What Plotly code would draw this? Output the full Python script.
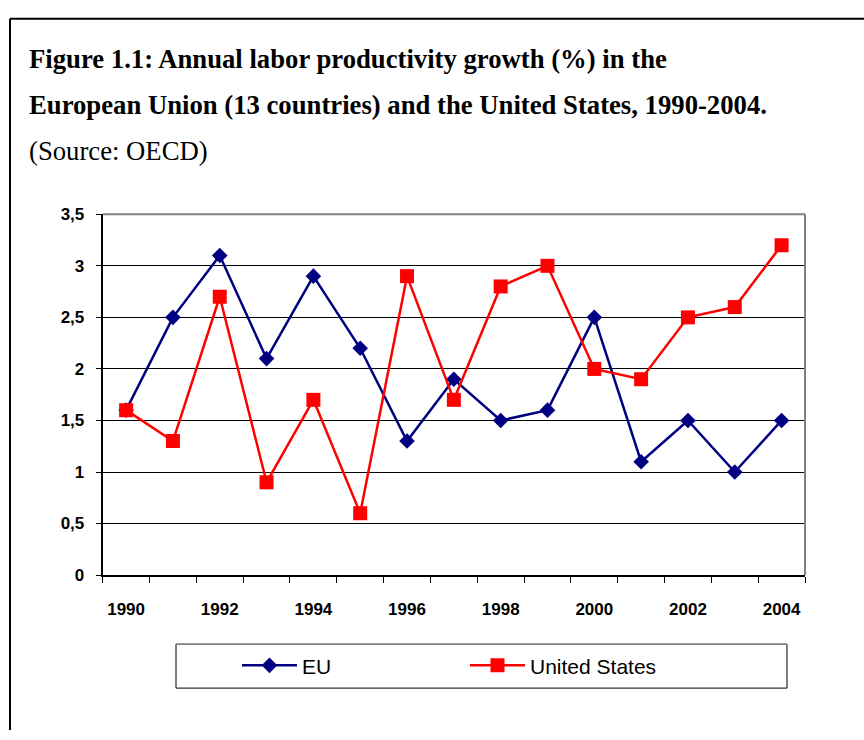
import plotly.graph_objects as go

years = list(range(1990, 2005))
eu = [1.6, 2.5, 3.1, 2.1, 2.9, 2.2, 1.3, 1.9, 1.5, 1.6, 2.5, 1.1, 1.5, 1.0, 1.5]
us = [1.6, 1.3, 2.7, 0.9, 1.7, 0.6, 2.9, 1.7, 2.8, 3.0, 2.0, 1.9, 2.5, 2.6, 3.2]
x_labels = [1990, 1992, 1994, 1996, 1998, 2000, 2002, 2004]
y_ticks = [0, 0.5, 1, 1.5, 2, 2.5, 3, 3.5]

W, H = 864, 740
x0, x1 = 102.7, 805
y0, y1 = 210.7, 581

fig = go.Figure()
fig.add_trace(go.Scatter(x=years, y=eu, name="EU", mode="lines+markers",
                         line=dict(color="#000080", width=2.5),
                         marker=dict(symbol="diamond", size=12, color="#000080")))
fig.add_trace(go.Scatter(x=years, y=us, name="United States", mode="lines+markers",
                         line=dict(color="#FF0000", width=2.5),
                         marker=dict(symbol="square", size=14, color="#FF0000")))

fig.update_layout(
    width=W, height=H,
    margin=dict(l=0, r=0, t=0, b=0),
    paper_bgcolor="white", plot_bgcolor="white",
    separators=", ",
    showlegend=True,
    legend=dict(orientation="h", x=237 / W, xanchor="left",
                y=1 - 674 / H, yanchor="middle",
                font=dict(family="Liberation Sans, Arial", size=21, color="black"),
                bgcolor="rgba(0,0,0,0)", itemwidth=55, entrywidth=158,
                traceorder="normal"),
    xaxis=dict(domain=[x0 / W, x1 / W], range=[1989.5, 2004.5],
               tickvals=x_labels, ticks="", showgrid=False, zeroline=False,
               showline=True, linecolor="black", linewidth=2,
               tickfont=dict(family="Liberation Sans, Arial", size=17, color="black", weight="bold"),
               ticklabelstandoff=18,
               minor=dict(tickmode="linear", tick0=1989.5, dtick=1, ticks="outside",
                          ticklen=6, tickcolor="black", tickwidth=1, showgrid=False)),
    yaxis=dict(domain=[1 - y1 / H, 1 - y0 / H], range=[0, 3.5],
               tickvals=y_ticks, ticks="outside", ticklen=5, tickcolor="black",
               showgrid=True, gridcolor="black", gridwidth=1, zeroline=False,
               showline=True, linecolor="black", linewidth=2,
               tickfont=dict(family="Liberation Sans, Arial", size=17, color="black", weight="bold"),
               ticklabelstandoff=8),
)

shapes = [
    # outer frame (left & top)
    dict(type="line", xref="paper", yref="paper", x0=10 / W, x1=10 / W, y0=0, y1=1 - 10 / H,
         line=dict(color="black", width=2)),
    dict(type="line", xref="paper", yref="paper", x0=10 / W, x1=1, y0=1 - 10 / H, y1=1 - 10 / H,
         line=dict(color="black", width=2)),
    # plot area top & right border (gray)
    dict(type="line", xref="paper", yref="paper", x0=x0 / W, x1=x1 / W, y0=1 - y0 / H, y1=1 - y0 / H,
         line=dict(color="#808080", width=2)),
    dict(type="line", xref="paper", yref="paper", x0=x1 / W, x1=x1 / W, y0=1 - y0 / H, y1=1 - y1 / H,
         line=dict(color="#808080", width=2)),
    # legend box
    dict(type="rect", xref="paper", yref="paper", x0=176 / W, x1=787 / W, y0=1 - 652 / H, y1=1 - 697 / H,
         line=dict(color="black", width=1), layer="below"),
    dict(type="line", xref="paper", yref="paper", x0=176 / W, x1=787 / W, y0=1 - 652 / H, y1=1 - 652 / H,
         line=dict(color="#808080", width=1.5)),
]
fig.update_layout(shapes=shapes)

ann_font_b = dict(family="Liberation Serif, Times New Roman", size=26.7, color="black", weight="bold")
ann_font = dict(family="Liberation Serif, Times New Roman", size=26.7, color="black")
fig.add_annotation(text="Figure 1.1: Annual labor productivity growth (%) in the",
                   xref="paper", yref="paper", x=27 / W, y=1 - 51 / H, xanchor="left", yanchor="middle",
                   showarrow=False, font=ann_font_b)
fig.add_annotation(text="European Union (13 countries) and the United States, 1990-2004.",
                   xref="paper", yref="paper", x=27 / W, y=1 - 99 / H, xanchor="left", yanchor="middle",
                   showarrow=False, font=ann_font_b)
fig.add_annotation(text="(Source: OECD)",
                   xref="paper", yref="paper", x=27 / W, y=1 - 146 / H, xanchor="left", yanchor="middle",
                   showarrow=False, font=ann_font)

fig.write_html("out.html")
